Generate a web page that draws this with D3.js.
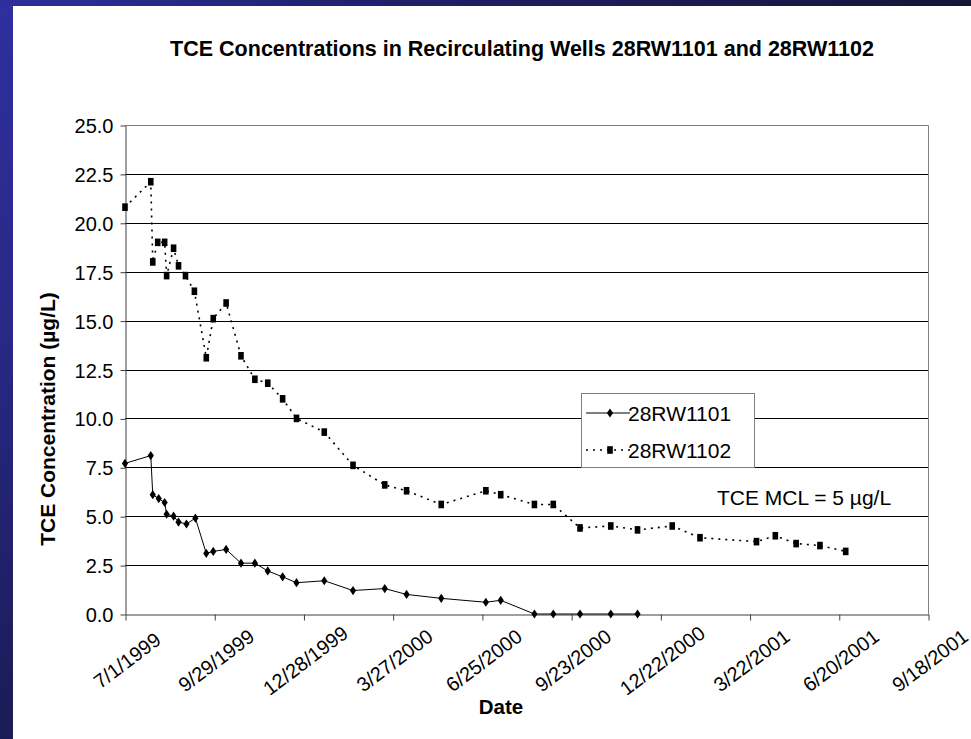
<!DOCTYPE html>
<html>
<head>
<meta charset="utf-8">
<script src="https://cdn.jsdelivr.net/npm/d3@7"></script>
<style>
  html, body { margin: 0; padding: 0; background: #ffffff; }
  svg { display: block; }
  text { font-family: "Liberation Sans", Arial, Helvetica, sans-serif; fill: #000; }
</style>
</head>
<body>
<script>
// ---- Data -----------------------------------------------------------------
const chartTitle = "TCE Concentrations in Recirculating Wells 28RW1101 and 28RW1102";
const seriesNames = ["28RW1101", "28RW1102"];

const dates1101 = [
  "7/1/1999", "7/27/1999", "7/29/1999", "8/4/1999", "8/10/1999", "8/12/1999",
  "8/19/1999", "8/24/1999", "9/1/1999", "9/10/1999", "9/21/1999", "9/28/1999",
  "10/11/1999", "10/26/1999", "11/9/1999", "11/22/1999", "12/7/1999", "12/21/1999",
  "1/18/2000", "2/16/2000", "3/19/2000", "4/10/2000", "5/15/2000", "6/29/2000",
  "7/14/2000", "8/17/2000", "9/5/2000", "10/2/2000", "11/2/2000", "11/29/2000"
];
const tce1101 = [
  7.7, 8.1, 6.1, 5.9, 5.7, 5.1,
  5.0, 4.7, 4.6, 4.9, 3.1, 3.2,
  3.3, 2.6, 2.6, 2.2, 1.9, 1.6,
  1.7, 1.2, 1.3, 1.0, 0.8, 0.6,
  0.7, 0.0, 0.0, 0.0, 0.0, 0.0
];

const dates1102 = [
  "7/1/1999", "7/27/1999", "7/29/1999", "8/3/1999", "8/10/1999", "8/12/1999",
  "8/19/1999", "8/24/1999", "8/31/1999", "9/9/1999", "9/21/1999", "9/28/1999",
  "10/11/1999", "10/26/1999", "11/9/1999", "11/22/1999", "12/7/1999", "12/21/1999",
  "1/18/2000", "2/16/2000", "3/19/2000", "4/10/2000", "5/15/2000", "6/29/2000",
  "7/14/2000", "8/17/2000", "9/5/2000", "10/2/2000", "11/2/2000", "11/29/2000",
  "1/3/2001", "1/31/2001", "3/29/2001", "4/17/2001", "5/8/2001", "6/1/2001",
  "6/27/2001"
];
const tce1102 = [
  20.8, 22.1, 18.0, 19.0, 19.0, 17.3,
  18.7, 17.8, 17.3, 16.5, 13.1, 15.1,
  15.9, 13.2, 12.0, 11.8, 11.0, 10.0,
  9.3, 7.6, 6.6, 6.3, 5.6, 6.3,
  6.1, 5.6, 5.6, 4.4, 4.5, 4.3,
  4.5, 3.9, 3.7, 4.0, 3.6, 3.5,
  3.2
];

const xTickLabels = [
  "7/1/1999", "9/29/1999", "12/28/1999", "3/27/2000", "6/25/2000",
  "9/23/2000", "12/22/2000", "3/22/2001", "6/20/2001", "9/18/2001"
];
const yTickValues = [0, 2.5, 5, 7.5, 10, 12.5, 15, 17.5, 20, 22.5, 25];
const mclNote = "TCE MCL = 5 µg/L";
const xAxisTitle = "Date";
const yAxisTitle = "TCE Concentration (µg/L)";

// ---- Setup ----------------------------------------------------------------
const W = 971, H = 739;
const plot = { left: 125, top: 125, right: 928, bottom: 614 };
const parseDate = d3.timeParse("%m/%d/%Y");
const tickDates = xTickLabels.map(parseDate);

const x = d3.scaleTime()
  .domain([tickDates[0], tickDates[tickDates.length - 1]])
  .range([plot.left, plot.right]);
const y = d3.scaleLinear()
  .domain([0, 25])
  .range([plot.bottom, plot.top]);

const svg = d3.select("body").append("svg")
  .attr("width", W).attr("height", H);

// Slide background: blue gradient frame behind a white panel
const defs = svg.append("defs");
const bgGrad = defs.append("linearGradient")
  .attr("id", "slideBg").attr("x1", "0").attr("y1", "0").attr("x2", "1").attr("y2", "1");
bgGrad.append("stop").attr("offset", "0%").attr("stop-color", "#3434a8");
bgGrad.append("stop").attr("offset", "35%").attr("stop-color", "#23237a");
bgGrad.append("stop").attr("offset", "100%").attr("stop-color", "#14143c");
const leftGrad = defs.append("linearGradient")
  .attr("id", "leftBg").attr("x1", "0").attr("y1", "0").attr("x2", "0").attr("y2", "1");
leftGrad.append("stop").attr("offset", "0%").attr("stop-color", "#2f2f9e");
leftGrad.append("stop").attr("offset", "45%").attr("stop-color", "#282886");
leftGrad.append("stop").attr("offset", "100%").attr("stop-color", "#1b1b55");
const topGrad = defs.append("linearGradient")
  .attr("id", "topBg").attr("x1", "0").attr("y1", "0").attr("x2", "1").attr("y2", "0");
topGrad.append("stop").attr("offset", "0%").attr("stop-color", "#2e2e9c");
topGrad.append("stop").attr("offset", "40%").attr("stop-color", "#20206a");
topGrad.append("stop").attr("offset", "100%").attr("stop-color", "#151538");

svg.append("rect").attr("width", W).attr("height", H).attr("fill", "url(#slideBg)");
svg.append("rect").attr("x", 0).attr("y", 0).attr("width", 13).attr("height", H).attr("fill", "url(#leftBg)");
svg.append("rect").attr("x", 0).attr("y", 0).attr("width", W).attr("height", 6).attr("fill", "url(#topBg)");
svg.append("rect").attr("x", 13).attr("y", 6).attr("width", W - 13).attr("height", H - 6).attr("fill", "#ffffff");

// ---- Gridlines and frame --------------------------------------------------
svg.append("g").selectAll("line")
  .data(yTickValues.filter(v => v > 0 && v < 25))
  .join("line")
  .attr("x1", plot.left).attr("x2", plot.right)
  .attr("y1", d => Math.round(y(d)) + 0.5).attr("y2", d => Math.round(y(d)) + 0.5)
  .attr("stroke", "#000").attr("stroke-width", 1);

// top and right border of the plot area
svg.append("path")
  .attr("d", `M${plot.left},${plot.top + 0.5}H${plot.right + 0.5}V${plot.bottom}`)
  .attr("fill", "none").attr("stroke", "#808080").attr("stroke-width", 1);

// ---- Axes -----------------------------------------------------------------
const yAxis = svg.append("g")
  .attr("transform", `translate(${plot.left + 0.5},0.5)`)
  .call(d3.axisLeft(y).tickValues(yTickValues).tickSize(5).tickSizeOuter(0)
    .tickPadding(7).tickFormat(d3.format(".1f")));
yAxis.select(".domain").attr("stroke", "#404040");
yAxis.selectAll(".tick line").attr("stroke", "#404040");
yAxis.selectAll(".tick text")
  .style("font-size", "20px").attr("dy", "0.35em");

// date labels sit centred under each tick, slanted upward
const xAxis = svg.append("g")
  .attr("transform", `translate(0.5,${plot.bottom + 0.5})`)
  .call(d3.axisBottom(x).tickValues(tickDates).tickSize(6).tickSizeOuter(0)
    .tickFormat((d, i) => xTickLabels[i]));
xAxis.select(".domain").attr("stroke", "#404040");
xAxis.selectAll(".tick line").attr("stroke", "#404040");
xAxis.selectAll(".tick text")
  .style("font-size", "20px")
  .attr("text-anchor", "middle")
  .attr("x", 0).attr("y", 0).attr("dy", "0.35em")
  .attr("transform", "translate(1,46) rotate(-37)");

// ---- Series ---------------------------------------------------------------
const s1101 = dates1101.map((d, i) => ({ date: parseDate(d), value: tce1101[i] }));
const s1102 = dates1102.map((d, i) => ({ date: parseDate(d), value: tce1102[i] }));

const line = d3.line().x(d => x(d.date)).y(d => y(d.value));

const diamondPath = "M0,-4.6L3.1,0L0,4.6L-3.1,0Z";

svg.append("path")
  .datum(s1102)
  .attr("d", line)
  .attr("fill", "none").attr("stroke", "#000")
  .attr("stroke-width", 1.6).attr("stroke-dasharray", "2,5");

svg.append("g").selectAll("rect")
  .data(s1102)
  .join("rect")
  .attr("x", d => x(d.date) - 2.8).attr("y", d => y(d.value) - 3.8)
  .attr("width", 5.6).attr("height", 7.6)
  .attr("fill", "#000");

svg.append("path")
  .datum(s1101)
  .attr("d", line)
  .attr("fill", "none").attr("stroke", "#000").attr("stroke-width", 1);

svg.append("g").selectAll("path")
  .data(s1101)
  .join("path")
  .attr("d", diamondPath)
  .attr("transform", d => `translate(${x(d.date)},${y(d.value)})`)
  .attr("fill", "#000");

// ---- Legend ---------------------------------------------------------------
const legend = svg.append("g");
legend.append("rect")
  .attr("x", 581.5).attr("y", 393.5).attr("width", 173).attr("height", 74)
  .attr("fill", "#fff").attr("stroke", "#808080").attr("stroke-width", 1);

const rowY = [413, 450];
legend.append("line")
  .attr("x1", 586).attr("x2", 630).attr("y1", rowY[0]).attr("y2", rowY[0])
  .attr("stroke", "#000").attr("stroke-width", 1);
legend.append("path")
  .attr("d", diamondPath)
  .attr("transform", `translate(610,${rowY[0]})`)
  .attr("fill", "#000");
legend.append("line")
  .attr("x1", 586).attr("x2", 630).attr("y1", rowY[1]).attr("y2", rowY[1])
  .attr("stroke", "#000").attr("stroke-width", 1.6).attr("stroke-dasharray", "2,5");
legend.append("rect")
  .attr("x", 610 - 2.8).attr("y", rowY[1] - 3.8).attr("width", 5.6).attr("height", 7.6)
  .attr("fill", "#000");

legend.selectAll("text.entry")
  .data(seriesNames)
  .join("text")
  .attr("class", "entry")
  .attr("x", 628).attr("y", (d, i) => rowY[i])
  .attr("dy", "0.36em")
  .style("font-size", "21px")
  .text(d => d);

// ---- Titles and note ------------------------------------------------------
svg.append("text")
  .attr("x", 522).attr("y", 56)
  .attr("text-anchor", "middle")
  .style("font-size", "21.5px").style("font-weight", "bold")
  .text(chartTitle);

svg.append("text")
  .attr("transform", "translate(55,419) rotate(-90)")
  .attr("text-anchor", "middle")
  .style("font-size", "21px").style("font-weight", "bold")
  .text(yAxisTitle);

svg.append("text")
  .attr("x", 501).attr("y", 714)
  .attr("text-anchor", "middle")
  .style("font-size", "20.5px").style("font-weight", "bold")
  .text(xAxisTitle);

svg.append("text")
  .attr("x", 717).attr("y", 505)
  .style("font-size", "21px")
  .text(mclNote);
</script>
</body>
</html>
